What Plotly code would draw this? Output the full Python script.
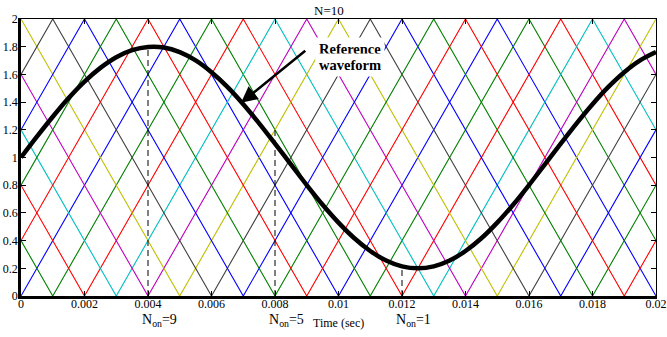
import plotly.graph_objects as go

# ---------------- data ----------------
time_ticks = [0, 0.002, 0.004, 0.006, 0.008, 0.01, 0.012, 0.014, 0.016, 0.018, 0.02]
time_tick_labels = ["0", "0.002", "0.004", "0.006", "0.008", "0.01", "0.012", "0.014", "0.016", "0.018", "0.02"]
level_ticks = [0, 0.2, 0.4, 0.6, 0.8, 1, 1.2, 1.4, 1.6, 1.8, 2]
level_tick_labels = ["0", "0.2", "0.4", "0.6", "0.8", "1", "1.2", "1.4", "1.6", "1.8", "2"]

carrier_colors = ["#0000FF", "#008000", "#FF0000", "#00BFBF", "#BF00BF",
                  "#BFBF00", "#404040", "#0000FF", "#008000", "#FF0000"]

carrier_times = [
    [0, 0.005, 0.010, 0.015, 0.020],
    [0, 0.001, 0.006, 0.011, 0.016, 0.020],
    [0, 0.002, 0.007, 0.012, 0.017, 0.020],
    [0, 0.003, 0.008, 0.013, 0.018, 0.020],
    [0, 0.004, 0.009, 0.014, 0.019, 0.020],
    [0, 0.005, 0.010, 0.015, 0.020],
    [0, 0.001, 0.006, 0.011, 0.016, 0.020],
    [0, 0.002, 0.007, 0.012, 0.017, 0.020],
    [0, 0.003, 0.008, 0.013, 0.018, 0.020],
    [0, 0.004, 0.009, 0.014, 0.019, 0.020],
]
carrier_values = [
    [0, 2, 0, 2, 0],
    [0.4, 0, 2, 0, 2, 0.4],
    [0.8, 0, 2, 0, 2, 0.8],
    [1.2, 0, 2, 0, 2, 1.2],
    [1.6, 0, 2, 0, 2, 1.6],
    [2, 0, 2, 0, 2],
    [1.6, 2, 0, 2, 0, 1.6],
    [1.2, 2, 0, 2, 0, 1.2],
    [0.8, 2, 0, 2, 0, 0.8],
    [0.4, 2, 0, 2, 0, 0.4],
]

ref_times = [0.0, 0.0005, 0.001, 0.0015, 0.002, 0.0025, 0.003, 0.0035, 0.004, 0.0045,
             0.005, 0.0055, 0.006, 0.0065, 0.007, 0.0075, 0.008, 0.0085, 0.009, 0.0095,
             0.010, 0.0105, 0.011, 0.0115, 0.012, 0.0125, 0.013, 0.0135, 0.014, 0.0145,
             0.015, 0.0155, 0.016, 0.0165, 0.017, 0.0175, 0.018, 0.0185, 0.019, 0.0195, 0.020]
ref_values = [1.000, 1.150, 1.294, 1.429, 1.548, 1.647, 1.724, 1.775, 1.798, 1.794,
              1.761, 1.701, 1.616, 1.510, 1.385, 1.247, 1.100, 0.950, 0.801, 0.659,
              0.530, 0.417, 0.325, 0.256, 0.214, 0.200, 0.214, 0.256, 0.325, 0.417,
              0.530, 0.659, 0.801, 0.950, 1.100, 1.247, 1.385, 1.510, 1.616, 1.701, 1.761]

sample_times = [0.004, 0.008, 0.012]
sample_levels = [1.8, 1.2, 0.2]
sample_labels = ["N<sub>on</sub>=9", "N<sub>on</sub>=5", "N<sub>on</sub>=1"]

FONT = "Liberation Serif"

fig = go.Figure()

for t, v, c in zip(carrier_times, carrier_values, carrier_colors):
    fig.add_trace(go.Scatter(x=t, y=v, mode="lines", line=dict(color=c, width=1.1),
                             hoverinfo="skip", showlegend=False))

fig.add_trace(go.Scatter(x=ref_times, y=ref_values, mode="lines",
                         line=dict(color="black", width=4.5, shape="spline"),
                         showlegend=False))

dx, dy = [], []
for t, lv in zip(sample_times, sample_levels):
    dx += [t, t, None]
    dy += [0, lv, None]
fig.add_trace(go.Scatter(x=dx, y=dy, mode="lines",
                         line=dict(color="black", width=1, dash="6px,4px"),
                         showlegend=False, hoverinfo="skip"))

# dummy trace to activate the mirrored thin axes (top/right)
fig.add_trace(go.Scatter(x=[ref_times[0]], y=[ref_values[0]], xaxis="x2", yaxis="y2",
                         mode="markers", marker=dict(opacity=0), hoverinfo="skip",
                         showlegend=False))

axis_common = dict(showgrid=False, zeroline=False, ticks="inside", ticklen=5,
                   tickwidth=1, tickcolor="black", linecolor="black", automargin=False)

fig.update_layout(
    width=667, height=337,
    margin=dict(l=21, r=11, t=19, b=41),
    plot_bgcolor="white", paper_bgcolor="white",
    font=dict(family=FONT, size=12, color="black"),
    xaxis=dict(range=[0, 0.02], tickvals=time_ticks, ticktext=time_tick_labels,
               showline=True, linewidth=2.5, tickfont=dict(family=FONT, size=12),
               ticklabelstandoff=-5, **axis_common),
    yaxis=dict(range=[0, 2], tickvals=level_ticks, ticktext=level_tick_labels,
               showline=True, linewidth=2.5, tickfont=dict(family=FONT, size=12),
               ticklabelstandoff=-2, **axis_common),
    xaxis2=dict(range=[0, 0.02], overlaying="x", side="top", tickvals=time_ticks,
                showticklabels=False, showline=True, linewidth=1, **axis_common),
    yaxis2=dict(range=[0, 2], overlaying="y", side="right", tickvals=level_ticks,
                showticklabels=False, showline=True, linewidth=1, **axis_common),
)

ann = []
ann.append(dict(text="N=10", x=0.0097, xref="x", y=1, yref="paper", yanchor="bottom",
                showarrow=False, font=dict(family=FONT, size=13), yshift=-1))
ann.append(dict(text="", x=0.00693, y=1.395, ax=0.0090, ay=1.779, xref="x", yref="y",
                axref="x", ayref="y", showarrow=True, arrowhead=2, arrowsize=1.3,
                arrowwidth=2.5, arrowcolor="black"))
ann.append(dict(text="<b>Reference</b>", x=0.01036, y=1.78, xref="x", yref="y",
                showarrow=False, bgcolor="white", borderpad=3,
                font=dict(family=FONT, size=14.5)))
ann.append(dict(text="<b>waveform</b>", x=0.01036, y=1.67, xref="x", yref="y",
                showarrow=False, bgcolor="white", borderpad=3,
                font=dict(family=FONT, size=14.5)))
for t, lab in zip(sample_times, sample_labels):
    ann.append(dict(text=lab, x=t, y=0, xref="x", yref="y", xanchor="left",
                    yanchor="top", xshift=-8, yshift=-14, showarrow=False,
                    font=dict(family=FONT, size=14)))
ann.append(dict(text="Time (sec)", x=0.01, y=0, xref="x", yref="y", xanchor="center",
                yanchor="top", yshift=-18, showarrow=False, font=dict(family=FONT, size=12)))
fig.update_layout(annotations=ann)

# remove the browser's default 8px body margin so the figure sits at the page origin
fig.write_html("out.html", config={"displayModeBar": False},
               post_script="document.body.style.margin='0';")
